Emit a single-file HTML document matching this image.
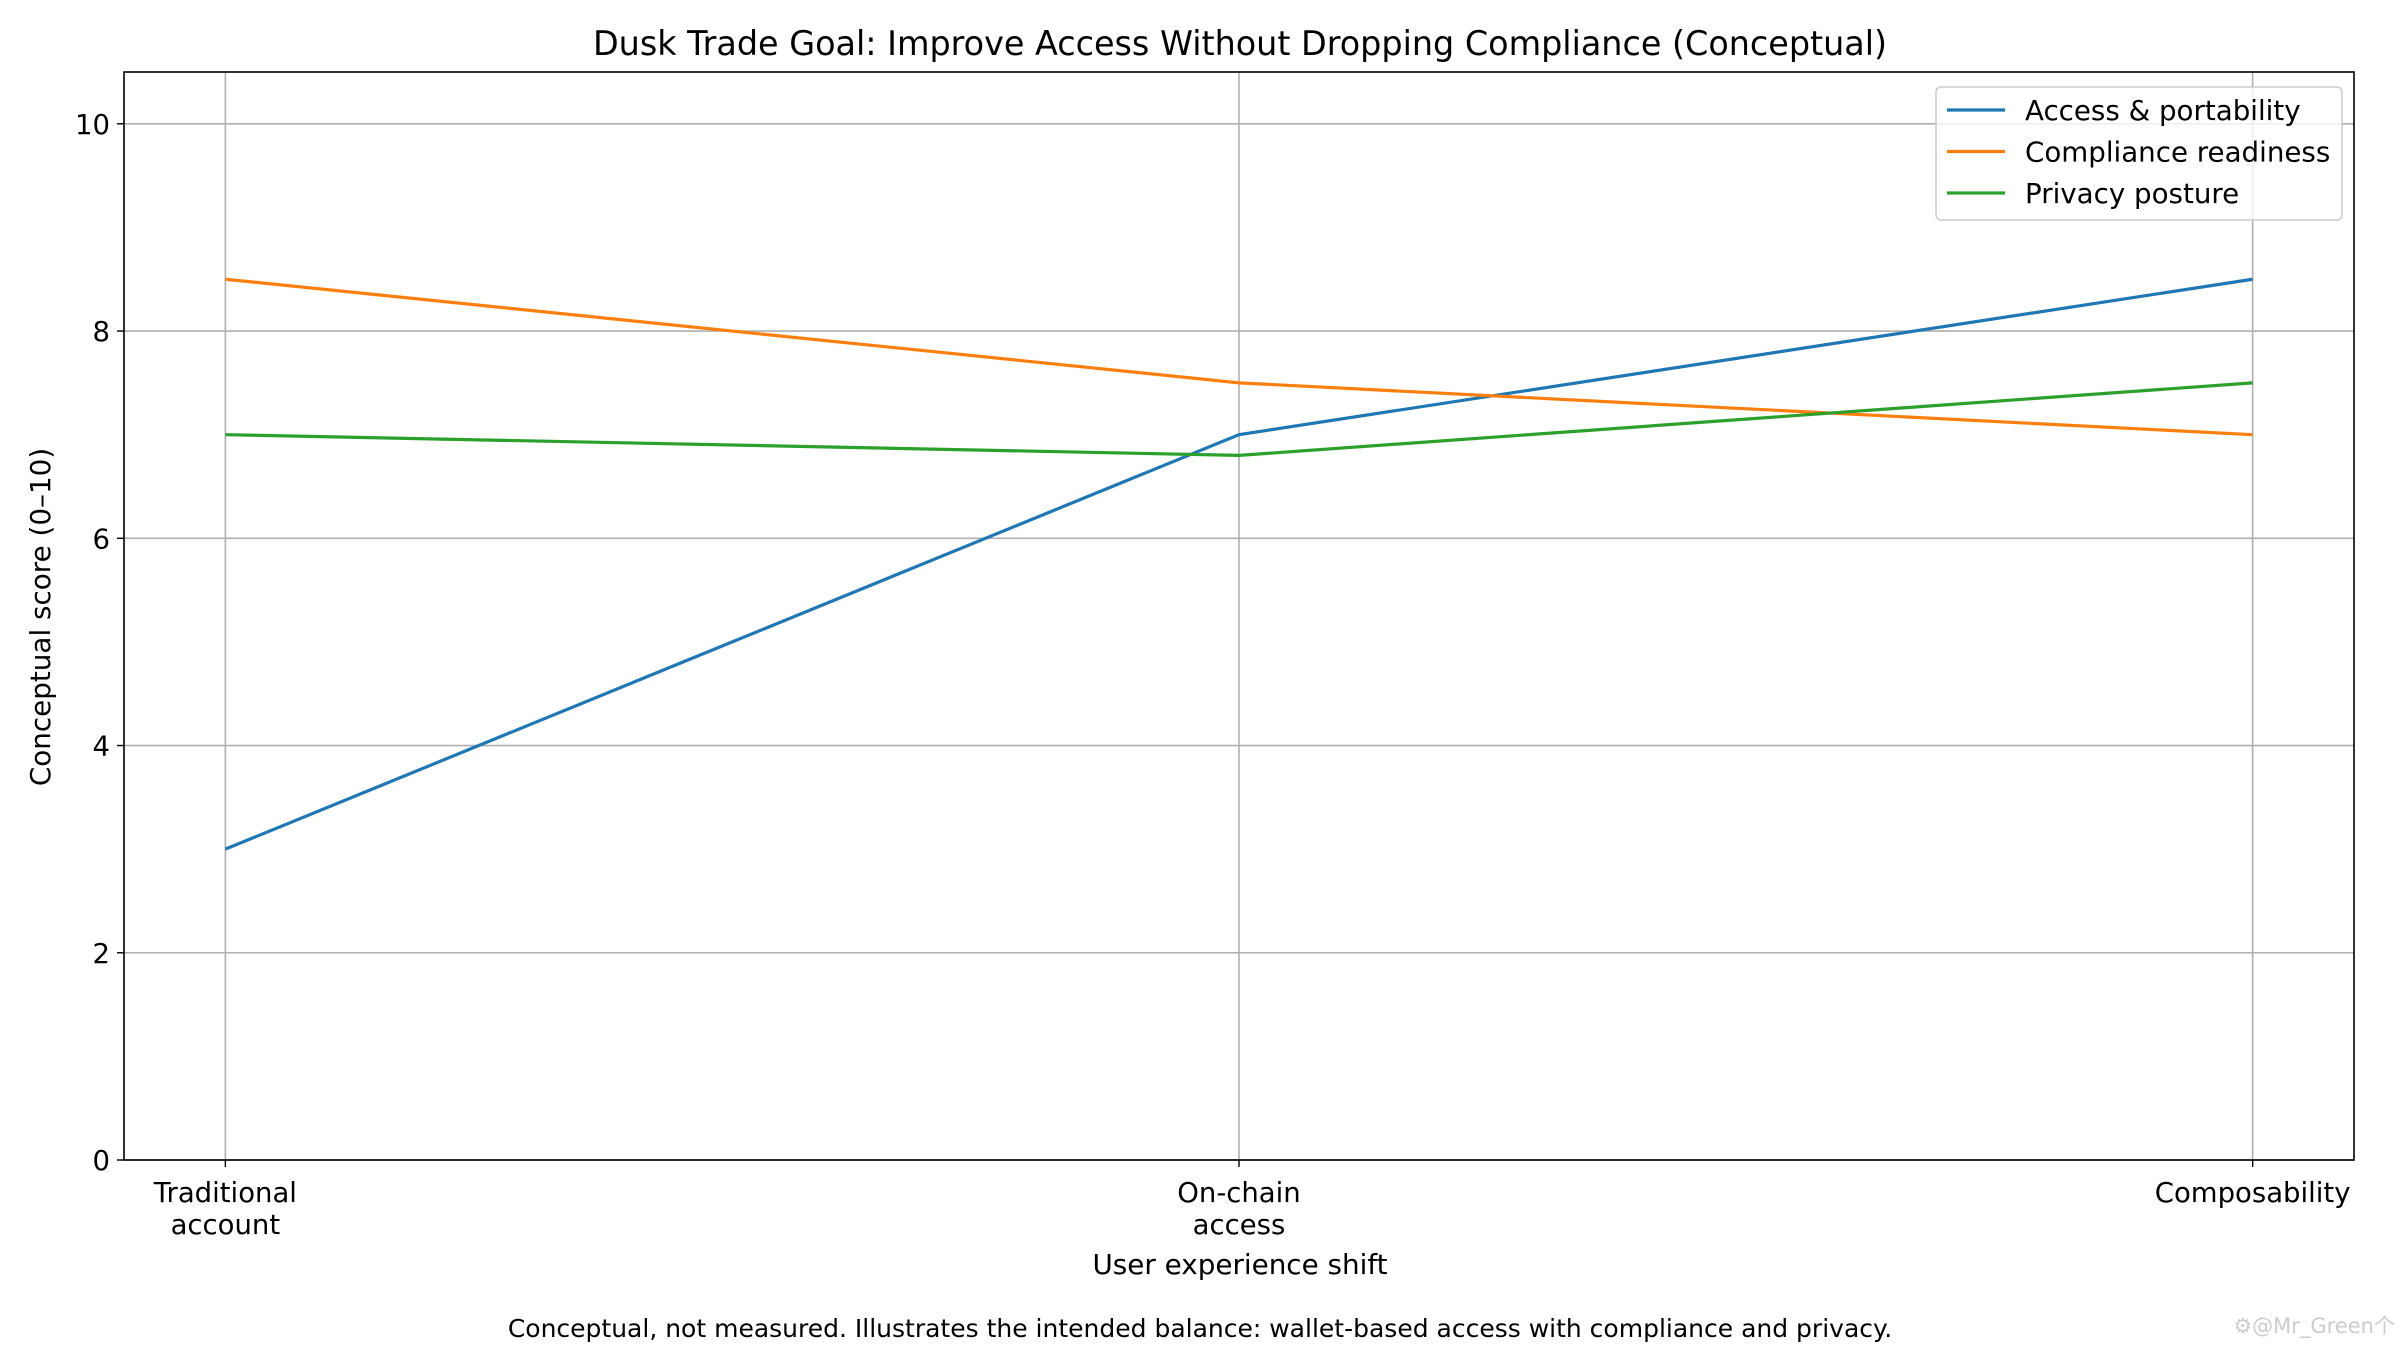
<!DOCTYPE html>
<html><head><meta charset="utf-8">
<style>
html,body{margin:0;padding:0;background:#fff;}
svg{display:block;font-family:"DejaVu Sans","Liberation Sans",sans-serif;}
</style></head>
<body>
<svg id="chart" width="2400" height="1350" viewBox="0 0 2400 1350">
<rect width="2400" height="1350" fill="#fff"/>
<text x="1240" y="55" font-size="33.4" text-anchor="middle" fill="#000">Dusk Trade Goal: Improve Access Without Dropping Compliance (Conceptual)</text>
<g id="grid"></g>
<g id="series"></g>
<rect x="124" y="72" width="2230" height="1088" fill="none" stroke="#000" stroke-width="1.6"/>
<g id="ticks"></g>
<text x="1240" y="1274" font-size="27.8" text-anchor="middle">User experience shift</text>
<text transform="translate(50,617) rotate(-90)" font-size="27.8" text-anchor="middle">Conceptual score (0–10)</text>
<g>
<rect x="1936" y="87" width="406" height="133" rx="5" fill="#fff" fill-opacity="0.8" stroke="#ccc" stroke-width="1.5"/>
<g id="legend"></g>
</g>
<text x="1200" y="1337" font-size="25" text-anchor="middle">Conceptual, not measured. Illustrates the intended balance: wallet-based access with compliance and privacy.</text>
<text x="2395" y="1333" font-size="21" text-anchor="end" fill="#ccc">⚙@Mr_Green个</text>
</svg>
<script>
const categories = [["Traditional","account"],["On-chain","access"],["Composability"]];
const seriesNames = ["Access & portability","Compliance readiness","Privacy posture"];
const accessValues = [3, 7, 8.5];
const complianceValues = [8.5, 7.5, 7];
const privacyValues = [7, 6.8, 7.5];
const yTicks = [0, 2, 4, 6, 8, 10];
const colors = ["#1f77b4","#ff7f0e","#2ca02c"];

const NS="http://www.w3.org/2000/svg";
const L=124,R=2354,T=72,B=1160;
const xs=i=>L+(i+0.1)/2.2*(R-L);
const ys=v=>B-v/10.5*(B-T);
function mk(tag,attrs,parent){const e=document.createElementNS(NS,tag);for(const k in attrs)e.setAttribute(k,attrs[k]);parent.appendChild(e);return e;}
const grid=document.getElementById('grid'),ticks=document.getElementById('ticks'),ser=document.getElementById('series'),leg=document.getElementById('legend');
yTicks.forEach(v=>{
  const g=mk('line',{x1:L,x2:R,y1:ys(v),y2:ys(v),stroke:'#b0b0b0','stroke-width':1.6},grid);
  
  
  const t=mk('line',{x1:L-7,x2:L,y1:ys(v),y2:ys(v),stroke:'#000','stroke-width':1.4},ticks);
  
  
  const tx=mk('text',{x:L-14,y:ys(v)+10,'font-size':27.5,'text-anchor':'end'},ticks);
  tx.textContent=v;
  
  
});
categories.forEach((c,i)=>{
  const g=mk('line',{x1:xs(i),x2:xs(i),y1:T,y2:B,stroke:'#b0b0b0','stroke-width':1.6},grid);
  
  
  const t=mk('line',{x1:xs(i),x2:xs(i),y1:B,y2:B+7,stroke:'#000','stroke-width':1.4},ticks);
  
  
  c.forEach((line,j)=>{
    const tx=mk('text',{x:xs(i),y:1202+j*32,'font-size':27.5,'text-anchor':'middle'},ticks);
    tx.textContent=line;
    
    
  });
});
[accessValues,complianceValues,privacyValues].forEach((vals,s)=>{
  const p=mk('polyline',{points:vals.map((v,i)=>xs(i)+','+ys(v)).join(' '),fill:'none',stroke:colors[s],'stroke-width':3.2},ser);
  
  
  const y=110+s*41.5;
  const l=mk('line',{x1:1947,x2:2005,y1:y,y2:y,stroke:colors[s],'stroke-width':3.2},leg);
  
  
  const tx=mk('text',{x:2025,y:y+10,'font-size':27.7},leg);
  tx.textContent=seriesNames[s];
  
  
});
</script>
</body></html>
